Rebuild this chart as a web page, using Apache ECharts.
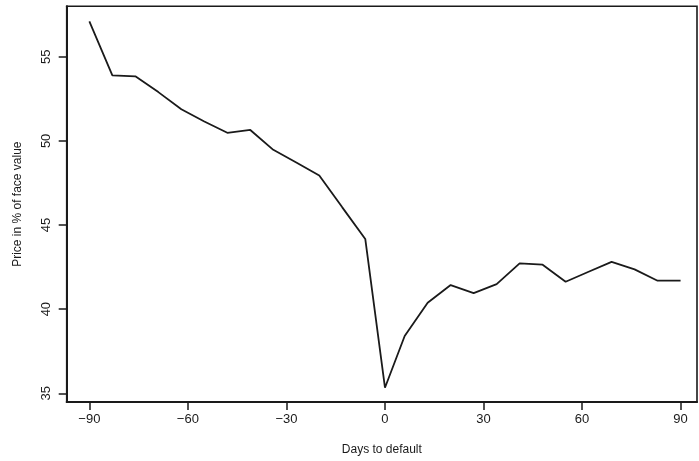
<!DOCTYPE html>
<html>
<head>
<meta charset="utf-8">
<script src="https://cdn.jsdelivr.net/npm/echarts@6/dist/echarts.min.js"></script>
<style>html,body{margin:0;padding:0;background:#fff;}#c{width:699px;height:461px;}</style>
</head>
<body>
<div id="c"></div>
<script>
const days = [-90,-83,-76,-69,-62,-55,-48,-41,-34,-27,-20,-13,-6,0,6,13,20,27,34,41,48,55,62,69,76,83,90];
const price = [57.1,53.9,53.84,52.9,51.88,51.15,50.48,50.65,49.47,48.72,47.94,46.05,44.17,35.33,38.4,40.38,41.43,40.95,41.49,42.72,42.64,41.63,42.22,42.81,42.36,41.69,41.69];
const xTicks = [-90,-60,-30,0,30,60,90];
const yTicks = [35,40,45,50,55];

const chart = echarts.init(document.getElementById('c'), null, {renderer:'canvas'});
const fmt = v => String(v).replace('-', '\u2212');
chart.setOption({
  animation:false,
  backgroundColor:'#fff',
  grid:{left:66.7, right:2, top:6.3, bottom:59, show:true, borderColor:'#1a1a1a', borderWidth:1.6, backgroundColor:'transparent'},
  xAxis:{
    type:'value', min:-96.9, max:95,
    name:'Days to default', nameLocation:'middle', nameGap:42,
    nameTextStyle:{fontFamily:'Liberation Sans', fontSize:12, color:'#1a1a1a'},
    axisLine:{show:true, onZero:false, lineStyle:{color:'#1a1a1a', width:2}},
    axisTick:{show:true, length:8, customValues:xTicks, lineStyle:{color:'#1a1a1a', width:1.5}},
    axisLabel:{customValues:xTicks, formatter:fmt, margin:11, fontFamily:'Liberation Sans', fontSize:13, color:'#1a1a1a'},
    splitLine:{show:false}
  },
  yAxis:{
    type:'value', min:34.48, max:58,
    name:'Price in % of face value', nameLocation:'middle', nameGap:43, nameRotate:90,
    nameTextStyle:{fontFamily:'Liberation Sans', fontSize:12, color:'#1a1a1a'},
    axisLine:{show:true, onZero:false, lineStyle:{color:'#1a1a1a', width:2}},
    axisTick:{show:true, length:8, customValues:yTicks, lineStyle:{color:'#1a1a1a', width:1.5}},
    axisLabel:{customValues:yTicks, rotate:90, margin:14, fontFamily:'Liberation Sans', fontSize:13, color:'#1a1a1a'},
    splitLine:{show:false}
  },
  series:[{
    type:'line',
    data: days.map((d,i)=>[d, price[i]]),
    showSymbol:false, symbol:'none',
    lineStyle:{color:'#1a1a1a', width:1.8},
    z:3
  }]
});
</script>
</body>
</html>
